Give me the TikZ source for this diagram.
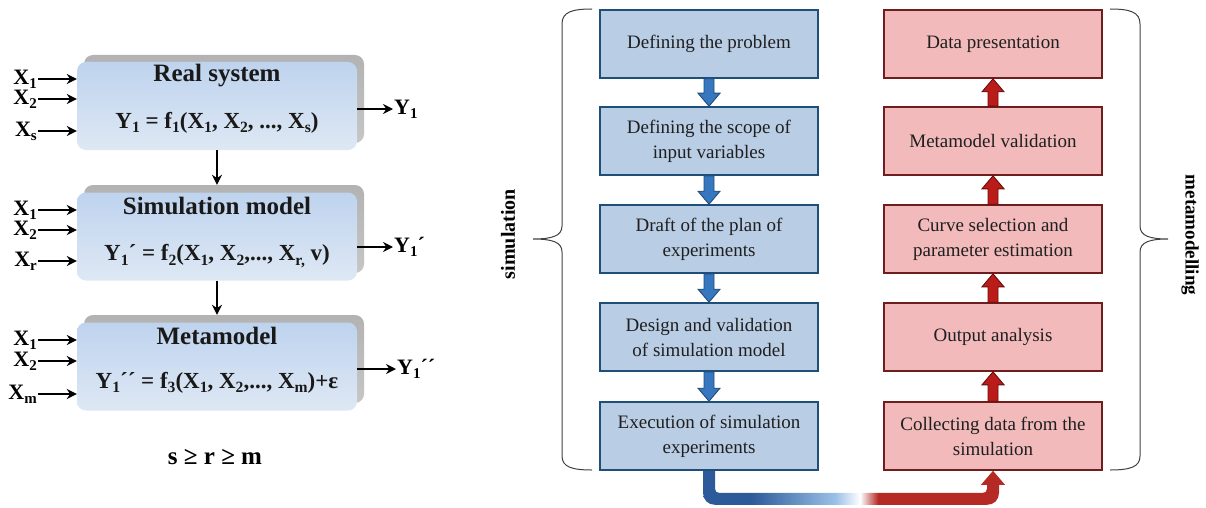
\documentclass[tikz,border=0pt]{standalone}
\usepackage{fontspec}
\usepackage{graphicx}
\setmainfont{Liberation Serif}
\usetikzlibrary{calc,arrows.meta}
\definecolor{bfill}{HTML}{B9CDE5}
\definecolor{bdraw}{HTML}{1F4E79}
\definecolor{rfill}{HTML}{F2BABA}
\definecolor{rdraw}{HTML}{6E1E1E}
\definecolor{ablue}{HTML}{3777C0}
\definecolor{ared}{HTML}{BA1C1A}
\definecolor{ardred}{HTML}{6E0C0C}
\definecolor{lbtop}{HTML}{BED3EE}
\definecolor{lbbot}{HTML}{DEE8F4}
\definecolor{pipeblue}{HTML}{2C5A9A}
\definecolor{pipelight}{HTML}{9CC1E8}
\definecolor{pipered}{HTML}{B52A25}
\pgfdeclarehorizontalshading{pipeshade}{100bp}{color(0bp)=(pipeblue); color(33bp)=(pipeblue); color(47bp)=(pipelight); color(51bp)=(white); color(54bp)=(pipered); color(100bp)=(pipered)}
\newcommand\lsub[1]{\raisebox{-0.4ex}{\scalebox{0.68}{#1}}}
\newcommand\blkdn[2]{%
  \filldraw[fill=ablue, draw=bdraw, line width=0.9pt, line join=miter]
    ($(#1.south)+(-5,0)$) -- ($(#2.north)+(-5,-13)$) -- ($(#2.north)+(-11,-13)$) -- (#2.north)
    -- ($(#2.north)+(11,-13)$) -- ($(#2.north)+(5,-13)$) -- ($(#1.south)+(5,0)$) -- cycle;}
\newcommand\blkup[2]{%
  \filldraw[fill=ared, draw=ardred, line width=0.9pt, line join=miter]
    ($(#1.north)+(-5,0)$) -- ($(#2.south)+(-5,13)$) -- ($(#2.south)+(-11,13)$) -- (#2.south)
    -- ($(#2.south)+(11,13)$) -- ($(#2.south)+(5,13)$) -- ($(#1.north)+(5,0)$) -- cycle;}
\begin{document}
\begin{tikzpicture}[x=1pt,y=-1pt,
  stepbox/.style={draw=bdraw, line width=1.6pt, fill=bfill, minimum width=218pt, minimum height=68pt,
    align=center, font=\fontsize{19}{25}\selectfont, inner sep=0pt, text=black!88},
  redbox/.style={stepbox, draw=rdraw, fill=rfill},
  lbox/.style={rounded corners=9pt, minimum width=280pt, minimum height=88pt, top color=lbtop, bottom color=lbbot, inner sep=0pt},
  lshadow/.style={rounded corners=9pt, minimum width=280pt, minimum height=88pt, top color=gray!60, bottom color=gray!45, inner sep=0pt},
  ttl/.style={font=\bfseries\fontsize{25}{28}\selectfont, inner sep=0pt, text=black!90},
  frm/.style={font=\bfseries\fontsize{23}{26}\selectfont, inner sep=0pt, text=black!90},
  xlab/.style={font=\bfseries\fontsize{22}{24}\selectfont, anchor=east, inner sep=1pt},
  ylab/.style={font=\bfseries\fontsize{22}{24}\selectfont, anchor=west, inner sep=1pt},
  sarrow/.style={line width=2.3pt, -{Stealth[length=10pt,width=10pt]}},
  bracestyle/.style={line width=1pt, black!75}
]
\useasboundingbox (0,0) rectangle (1206,508);

% ---------- left part ----------
\node[lshadow] (rssh) at (224,99) {};
\node[lbox] (rs) at (217,106) {};
\node[ttl] (rst) at (217,76) {Real system};
\node[frm] (rsf) at (217,123) {Y\lsub{1} = f\lsub{1}(X\lsub{1}, X\lsub{2}, ..., X\lsub{s})};

\node[lshadow] (smsh) at (224,229) {};
\node[lbox] (sm) at (217,236.5) {};
\node[ttl] (smt) at (217,206) {Simulation model};
\node[frm] (smf) at (217,256) {Y\lsub{1}´ = f\lsub{2}(X\lsub{1}, X\lsub{2},..., X\lsub{r,} v)};

\node[lshadow] (mmsh) at (224,359) {};
\node[lbox] (mm) at (217,366.5) {};
\node[ttl] (mmt) at (217,336) {Metamodel};
\node[frm] (mmf) at (217,383) {Y\lsub{1}´´ = f\lsub{3}(X\lsub{1}, X\lsub{2},..., X\lsub{m})+ε};

% inputs
\node[xlab] (xa1) at (38,79) {X\lsub{1}};
\node[xlab] (xa2) at (38,99) {X\lsub{2}};
\node[xlab] (xa3) at (38,131) {X\lsub{s}};
\node[xlab] (xb1) at (38,210) {X\lsub{1}};
\node[xlab] (xb2) at (38,230) {X\lsub{2}};
\node[xlab] (xb3) at (38,261) {X\lsub{r}};
\node[xlab] (xc1) at (38,340) {X\lsub{1}};
\node[xlab] (xc2) at (38,361) {X\lsub{2}};
\node[xlab] (xc3) at (38,394) {X\lsub{m}};
\foreach \n/\b in {xa1/rs,xa2/rs,xa3/rs,xb1/sm,xb2/sm,xb3/sm,xc1/mm,xc2/mm,xc3/mm}
  \draw[sarrow] (\n.east) -- (\n.east -| \b.west);

% outputs
\node[ylab] (ya) at (393,109) {Y\lsub{1}};
\node[ylab] (yb) at (393,247) {Y\lsub{1}´};
\node[ylab] (yc) at (396,369) {Y\lsub{1}´´};
\draw[sarrow] (rs.east |- ya.west) -- (ya.west);
\draw[sarrow] (sm.east |- yb.west) -- (yb.west);
\draw[sarrow] (mm.east |- yc.west) -- (yc.west);

% vertical arrows
\draw[sarrow] (rs.south) -- (rs.south |- smsh.north);
\draw[sarrow] (sm.south) -- (sm.south |- mmsh.north);

\node[font=\bfseries\fontsize{25}{28}\selectfont] (cond) at (215,457) {s ≥ r ≥ m};

% ---------- right part ----------
\node[stepbox] (b1) at (709,44) {Defining the problem};
\node[stepbox] (b2) at (709,141) {Defining the scope of\\input variables};
\node[stepbox] (b3) at (709,239) {Draft of the plan of\\experiments};
\node[stepbox] (b4) at (709,337) {Design and validation\\of simulation model};
\node[stepbox] (b5) at (709,436) {Execution of simulation\\experiments};

\node[redbox] (r1) at (993,44) {Data presentation};
\node[redbox] (r2) at (993,141) {Metamodel validation};
\node[redbox] (r3) at (993,239) {Curve selection and\\parameter estimation};
\node[redbox] (r4) at (993,337) {Output analysis};
\node[redbox] (r5) at (993,436) {Collecting data from the\\simulation};

\blkdn{b1}{b2}
\blkdn{b2}{b3}
\blkdn{b3}{b4}
\blkdn{b4}{b5}
\blkup{r5}{r4}
\blkup{r4}{r3}
\blkup{r3}{r2}
\blkup{r2}{r1}

% pipe from b5 to r5
\shade[shading=pipeshade]
  ($(b5.south)+(-6,0)$) -- ($(b5.south)+(-6,22)$)
  .. controls ($(b5.south)+(-6,29)$) and ($(b5.south)+(-1,34)$) .. ($(b5.south)+(6,34)$)
  -- ($(r5.south)+(-6,34)$)
  .. controls ($(r5.south)+(1,34)$) and ($(r5.south)+(6,29)$) .. ($(r5.south)+(6,22)$)
  -- ($(r5.south)+(6,14)$) -- ($(r5.south)+(12,14)$) -- (r5.south)
  -- ($(r5.south)+(-12,14)$) -- ($(r5.south)+(-6,14)$) -- ($(r5.south)+(-6,18)$)
  .. controls ($(r5.south)+(-6,21)$) and ($(r5.south)+(-8,22)$) .. ($(r5.south)+(-10,22)$)
  -- ($(b5.south)+(10,22)$)
  .. controls ($(b5.south)+(8,22)$) and ($(b5.south)+(6,21)$) .. ($(b5.south)+(6,18)$)
  -- ($(b5.south)+(6,0)$) -- cycle;

% braces
\draw[bracestyle] (592,9) .. controls (572,9) and (562,12) .. (562,24) -- (562,226)
  .. controls (562,236) and (552,239) .. (533,239)
  .. controls (552,239) and (562,242) .. (562,252) -- (562,456)
  .. controls (562,467) and (572,470) .. (592,470);
\draw[bracestyle] (1110,9) .. controls (1130,9) and (1140,12) .. (1140,24) -- (1140,226)
  .. controls (1140,236) and (1150,239) .. (1168,239)
  .. controls (1150,239) and (1140,242) .. (1140,252) -- (1140,456)
  .. controls (1140,467) and (1130,470) .. (1110,470);

\node[rotate=90, font=\bfseries\fontsize{20}{22}\selectfont] (simlab) at (508,234) {simulation};
\node[rotate=-90, font=\bfseries\fontsize{19}{22}\selectfont] (metalab) at (1190,235) {metamodelling};
\end{tikzpicture}
\end{document}
